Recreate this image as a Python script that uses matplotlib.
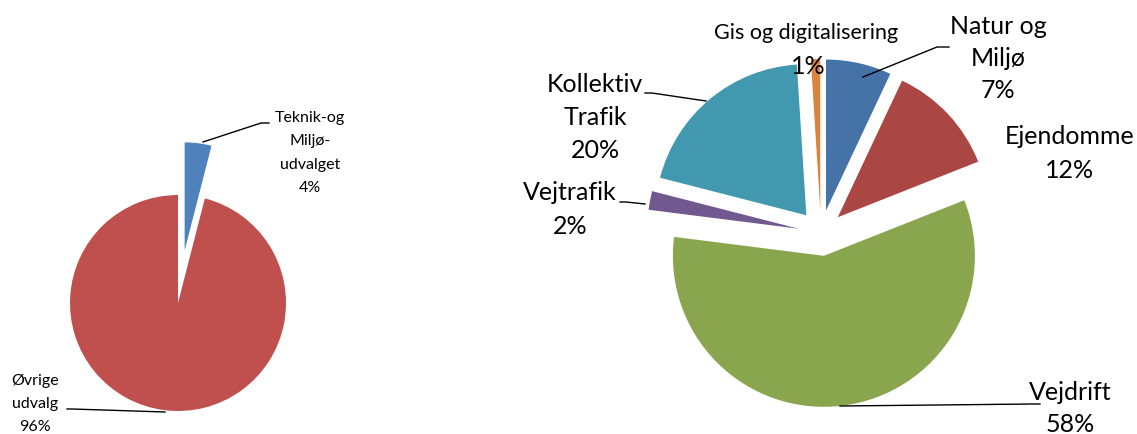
import matplotlib
matplotlib.use("Agg")
import matplotlib.pyplot as plt

# --------------------------
# Data
# --------------------------
left_labels = ["Teknik-og\nMiljø-\nudvalget", "Øvrige\nudvalg"]
left_values = [4, 96]
left_colors = ["#4F81BD", "#C0504D"]

right_labels = ["Natur og\nMiljø", "Ejendomme", "Vejdrift", "Vejtrafik",
                "Kollektiv\nTrafik", "Gis og digitalisering"]
right_values = [7, 12, 58, 2, 20, 1]
right_colors = ["#4572A7", "#AA4643", "#89A54E", "#71588F", "#4198AF", "#DB843D"]

W, H = 1137, 434
plt.rcParams['font.family'] = ['Lato', 'DejaVu Sans']

fig = plt.figure(figsize=(W / 100, H / 100), dpi=100)
ax = fig.add_axes([0, 0, 1, 1])

def py(y):
    # pixel row -> data y (y axis points up)
    return H - y

# --------------------------
# Left pie
# --------------------------
ax.pie(left_values, colors=left_colors, startangle=90, counterclock=False,
       center=(178, py(303)), radius=108, explode=[53, 0],
       wedgeprops=dict(linewidth=0))

# --------------------------
# Right pie
# --------------------------
ax.pie(right_values, colors=right_colors, startangle=90, counterclock=False,
       center=(821, py(233)), radius=151, explode=[23] * len(right_values),
       wedgeprops=dict(linewidth=0))

def label(x, y, name, pct, size, gap):
    lines = name.split("\n") + [f"{pct}%"]
    for i, s in enumerate(lines):
        ax.text(x, py(y + i * gap), s, ha="center", va="center",
                fontsize=size, color="black")

# left labels
label(310, 118, left_labels[0], left_values[0], 11.5, 23.5)
label(35, 381, left_labels[1], left_values[1], 11.5, 23)

# right labels
ax.text(806, py(33), right_labels[5], ha="center", va="center", fontsize=15.5)
ax.text(808, py(66), f"{right_values[5]}%", ha="center", va="center", fontsize=18)
label(998, 27, right_labels[0], right_values[0], 18, 32)
label(1070, 137, right_labels[1], right_values[1], 18, 33)
label(1070, 392, right_labels[2], right_values[2], 18, 32)
label(570, 193, right_labels[3], right_values[3], 18, 33)
label(595, 85, right_labels[4], right_values[4], 18, 32.5)

# leader lines
leaders = [
    [(203, 142), (261, 123), (269, 123)],
    [(165, 412), (72, 409), (67, 409)],
    [(863, 77), (937, 47), (949, 47)],
    [(706, 101), (652, 93), (645, 93)],
    [(645, 204), (626, 202), (620, 202)],
    [(840, 406), (1033, 404), (1040, 404)],
]
for pts in leaders:
    ax.plot([p[0] for p in pts], [py(p[1]) for p in pts], color="black", lw=1)

ax.set_xlim(0, W)
ax.set_ylim(0, H)
ax.set_aspect("equal")
ax.axis("off")

fig.savefig("out.png", dpi=100)
